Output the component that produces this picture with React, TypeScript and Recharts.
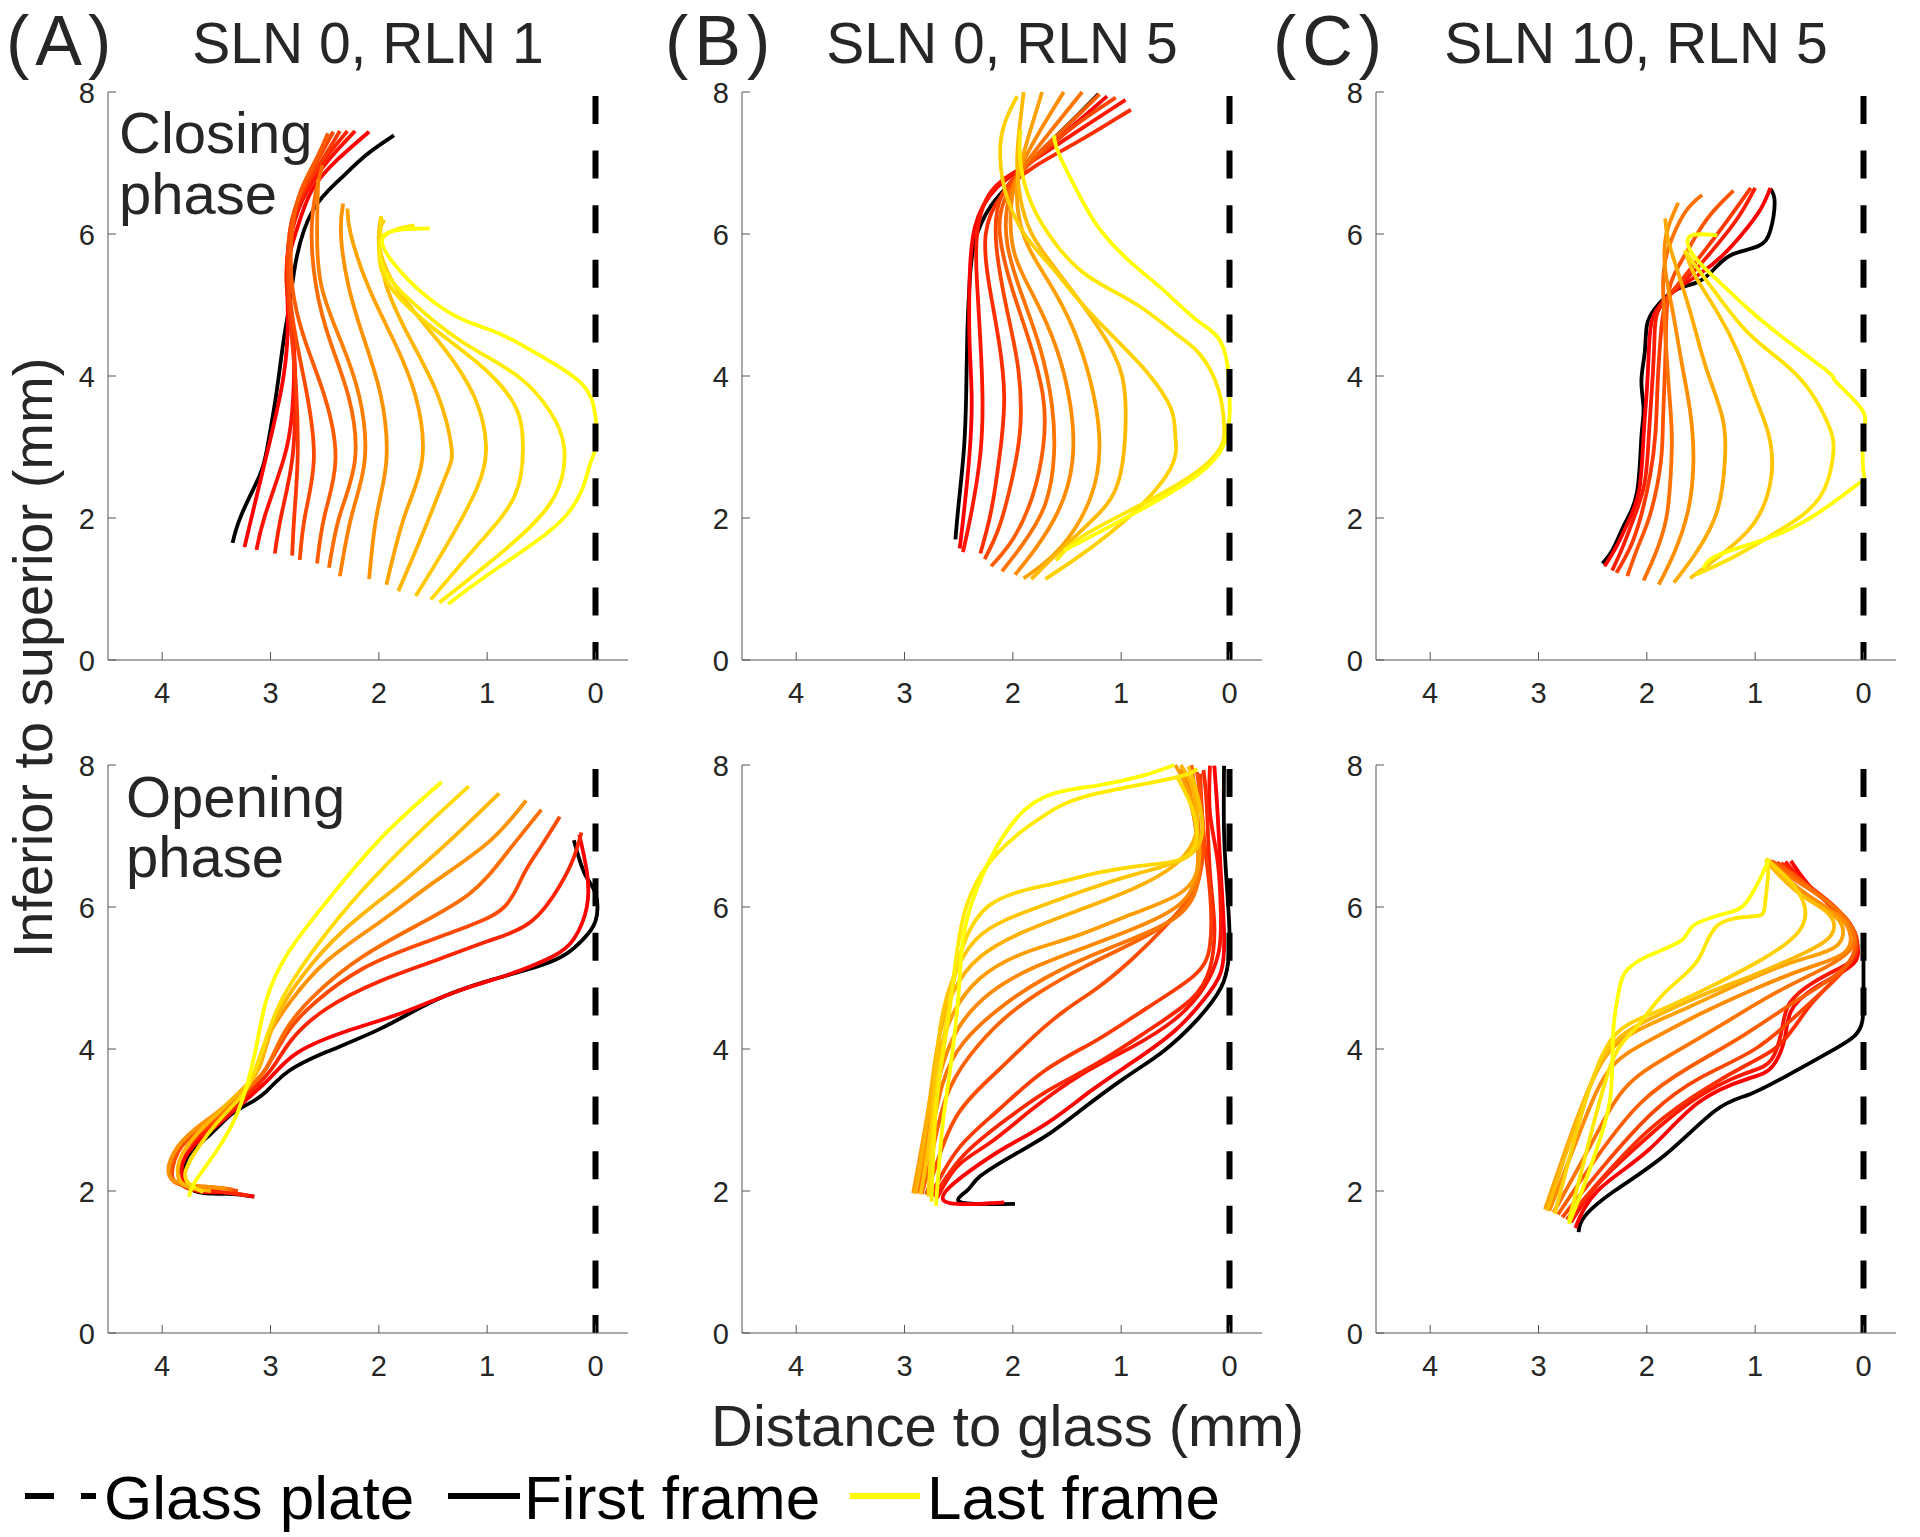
import React from "react";
import { LineChart, Line, XAxis, YAxis } from "recharts";

type P = [number, number];

const xTicks = [0, 1, 2, 3, 4];
const yTicks = [0, 2, 4, 6, 8];
const panelLetters = ["(A)", "(B)", "(C)"];
const panelTitles = ["SLN 0, RLN 1", "SLN 0, RLN 5", "SLN 10, RLN 5"];
const phaseLabels = [
  ["Closing", "phase"],
  ["Opening", "phase"],
];
const legendLabels = ["Glass plate", "First frame", "Last frame"];
const glassPlate: P[] = [
  [0, 8],
  [0, 0],
];

// each list: first curve = first frame (black), then frames red -> yellow
const closingA: P[][] = [
  [[3.35,1.65],[3.27,2.04],[3.1,2.6],[3.03,2.99],[2.95,3.71],[2.88,4.49],[2.82,5.05],[2.76,5.66],[2.61,6.33],[2.36,6.77],[2.12,7.11],[1.86,7.39]],
  [[3.24,1.59],[3.17,2.04],[3.02,2.99],[2.88,3.99],[2.84,4.82],[2.84,5.55],[2.76,6.05],[2.62,6.61],[2.38,7.05],[2.09,7.44]],
  [[3.13,1.55],[3.05,2.04],[2.88,2.82],[2.8,3.5],[2.79,4.49],[2.85,5.3],[2.8,6.05],[2.66,6.61],[2.46,7.05],[2.22,7.45]],
  [[2.96,1.5],[2.9,2.04],[2.8,2.82],[2.77,3.71],[2.79,4.49],[2.85,5.27],[2.81,6.05],[2.68,6.61],[2.5,7.05],[2.29,7.45]],
  [[2.8,1.47],[2.78,2.04],[2.75,2.82],[2.76,3.71],[2.8,4.49],[2.84,5.27],[2.82,6.05],[2.7,6.61],[2.52,7.05],[2.36,7.45]],
  [[2.73,1.41],[2.68,2.04],[2.6,2.82],[2.66,3.71],[2.76,4.49],[2.83,5.27],[2.82,6.05],[2.71,6.61],[2.56,7.05],[2.42,7.44]],
  [[2.57,1.36],[2.5,2.04],[2.4,2.82],[2.5,3.71],[2.68,4.49],[2.8,5.27],[2.8,6.05],[2.72,6.61],[2.58,7.05],[2.47,7.42]],
  [[2.46,1.3],[2.36,2.04],[2.22,2.82],[2.28,3.71],[2.45,4.49],[2.58,5.27],[2.62,6.05],[2.58,6.6],[2.52,6.97]],
  [[2.36,1.18],[2.25,2.04],[2.13,2.82],[2.18,3.71],[2.35,4.49],[2.53,5.27],[2.57,6.05],[2.56,6.77]],
  [[2.09,1.14],[2.02,2.04],[1.93,2.82],[1.98,3.71],[2.13,4.49],[2.28,5.27],[2.35,6.0],[2.33,6.43]],
  [[1.93,1.06],[1.76,2.04],[1.6,2.82],[1.66,3.71],[1.86,4.49],[2.1,5.27],[2.26,6.0],[2.29,6.36]],
  [[1.82,0.97],[1.6,1.76],[1.38,2.6],[1.33,3.0],[1.45,3.71],[1.7,4.49],[1.93,5.27],[2.0,5.9],[1.98,6.25]],
  [[1.66,0.9],[1.38,1.6],[1.1,2.4],[1.01,3.0],[1.12,3.71],[1.45,4.49],[1.85,5.27],[2.0,5.9],[1.95,6.2]],
  [[1.52,0.85],[1.1,1.6],[0.75,2.3],[0.67,3.0],[0.75,3.6],[1.1,4.2],[1.6,4.8],[1.95,5.4],[1.99,5.9],[1.98,6.25]],
  [[1.44,0.81],[0.8,1.6],[0.38,2.3],[0.29,3.0],[0.42,3.5],[0.72,4.0],[1.25,4.5],[1.7,5.05],[1.95,5.5],[1.96,5.95],[1.67,6.12]],
  [[1.36,0.79],[0.89,1.31],[0.27,2.04],[0.06,2.71],[0,2.99],[0,3.43],[0.12,3.88],[0.49,4.27],[0.89,4.6],[1.19,4.77],[1.5,5.05],[1.81,5.49],[1.96,5.97],[1.53,6.08]],
];

const closingB: P[][] = [
  [[2.53,1.7],[2.5,2.2],[2.45,3.0],[2.43,3.8],[2.42,4.6],[2.4,5.3],[2.35,5.9],[2.2,6.4],[2.0,6.75],[1.75,7.15],[1.45,7.6],[1.21,7.97]],
  [[2.49,1.57],[2.45,2.1],[2.4,2.9],[2.38,3.7],[2.4,4.5],[2.4,5.3],[2.35,6.1],[2.15,6.65],[1.85,7.0],[1.5,7.45],[1.13,7.94]],
  [[2.46,1.52],[2.38,2.1],[2.3,2.9],[2.28,3.7],[2.3,4.5],[2.33,5.3],[2.33,6.0],[2.2,6.6],[1.9,6.95],[1.5,7.35],[1.1,7.75],[0.96,7.89]],
  [[2.3,1.5],[2.2,2.1],[2.12,2.9],[2.08,3.7],[2.13,4.5],[2.22,5.3],[2.25,6.0],[2.1,6.55],[1.8,6.95],[1.4,7.3],[1.05,7.62],[0.91,7.75]],
  [[2.26,1.42],[2.12,1.9],[2.0,2.6],[1.93,3.3],[1.95,4.1],[2.05,4.9],[2.15,5.8],[2.1,6.55],[1.8,7.05],[1.45,7.5],[1.05,7.92]],
  [[2.2,1.32],[2.0,1.7],[1.82,2.3],[1.72,3.0],[1.72,3.7],[1.85,4.5],[2.02,5.3],[2.12,6.0],[2.07,6.5],[1.85,7.0],[1.55,7.45],[1.2,7.97]],
  [[2.1,1.25],[1.9,1.65],[1.7,2.2],[1.62,2.9],[1.64,3.6],[1.75,4.4],[1.93,5.2],[2.05,5.85],[2.05,6.4],[1.92,6.9],[1.65,7.45],[1.36,8.0]],
  [[1.98,1.2],[1.8,1.55],[1.58,2.1],[1.45,2.8],[1.47,3.6],[1.6,4.4],[1.8,5.1],[1.98,5.7],[2.02,6.3],[1.95,6.85],[1.75,7.45],[1.53,8.0]],
  [[1.9,1.15],[1.55,1.6],[1.28,2.3],[1.2,3.0],[1.25,3.7],[1.4,4.5],[1.62,5.2],[1.85,5.8],[1.95,6.3],[1.95,6.8],[1.85,7.4],[1.73,8.0]],
  [[1.83,1.14],[1.53,1.59],[1.22,2.04],[1.01,2.6],[0.96,3.6],[1.07,4.32],[1.38,5.05],[1.68,5.66],[1.84,6.05],[1.93,6.5],[1.96,7.05],[1.93,7.61],[1.9,8.0]],
  [[1.7,1.14],[1.37,1.48],[0.91,2.04],[0.54,2.71],[0.5,3.15],[0.54,3.54],[0.76,4.05],[1.07,4.55],[1.38,5.05],[1.65,5.55],[1.89,5.99],[2.05,6.5],[2.11,6.94],[2.11,7.33],[2.05,7.66],[1.96,7.94]],
  [[1.6,1.4],[1.35,1.75],[0.8,2.2],[0.3,2.65],[0.08,3.0],[0.05,3.3],[0.1,3.8],[0.27,4.3],[0.5,4.6],[0.85,5.0],[1.3,5.4],[1.6,5.85],[1.82,6.4],[1.93,7.0],[1.93,7.47]],
  [[1.53,1.54],[0.91,2.04],[0.3,2.6],[0.05,3.04],[0,3.43],[0,3.71],[0.02,4.16],[0.11,4.55],[0.33,4.82],[0.61,5.21],[0.91,5.6],[1.19,6.05],[1.37,6.5],[1.57,7.11],[1.62,7.39]],
];

const closingC: P[][] = [
  [[2.41,1.36],[2.31,1.57],[2.2,1.93],[2.09,2.37],[2.05,3.15],[2.03,3.54],[2.05,3.93],[2.02,4.32],[2.0,4.71],[1.92,4.96],[1.74,5.21],[1.52,5.33],[1.35,5.55],[1.2,5.72],[0.97,5.83],[0.86,6.05],[0.82,6.45],[0.86,6.64]],
  [[2.39,1.32],[2.28,1.6],[2.17,1.95],[2.07,2.4],[2.03,3.15],[2.0,3.8],[1.98,4.4],[1.95,4.8],[1.85,5.05],[1.7,5.25],[1.5,5.45],[1.3,5.7],[1.12,6.0],[0.95,6.35],[0.86,6.65]],
  [[2.32,1.26],[2.22,1.6],[2.12,2.0],[2.02,2.5],[1.98,3.2],[1.95,3.9],[1.93,4.5],[1.9,4.9],[1.75,5.2],[1.55,5.5],[1.35,5.85],[1.15,6.25],[1.0,6.65]],
  [[2.28,1.23],[2.15,1.6],[2.05,2.05],[1.97,2.6],[1.92,3.2],[1.9,3.9],[1.87,4.6],[1.82,5.05],[1.68,5.35],[1.5,5.7],[1.3,6.1],[1.04,6.65]],
  [[2.18,1.18],[2.08,1.6],[1.96,2.1],[1.87,2.8],[1.85,3.4],[1.83,4.2],[1.82,4.8],[1.78,5.3],[1.65,5.7],[1.45,6.2],[1.2,6.61]],
  [[2.03,1.12],[1.92,1.5],[1.82,2.0],[1.78,2.6],[1.77,3.2],[1.8,3.9],[1.83,4.6],[1.85,5.3],[1.8,5.8],[1.65,6.3],[1.49,6.55]],
  [[1.89,1.06],[1.75,1.5],[1.62,2.1],[1.57,2.8],[1.6,3.5],[1.68,4.2],[1.76,4.9],[1.83,5.5],[1.82,6.0],[1.71,6.44]],
  [[1.75,1.09],[1.55,1.5],[1.35,2.1],[1.28,2.8],[1.3,3.4],[1.45,4.1],[1.58,4.8],[1.7,5.4],[1.8,5.9],[1.83,6.22]],
  [[1.6,1.15],[1.3,1.5],[1.0,1.95],[0.85,2.6],[0.88,3.2],[1.0,3.7],[1.15,4.3],[1.35,4.9],[1.55,5.4],[1.65,5.77]],
  [[1.55,1.2],[1.2,1.45],[0.75,1.85],[0.4,2.3],[0.28,2.9],[0.32,3.3],[0.5,3.8],[0.75,4.2],[1.06,4.6],[1.33,5.1],[1.55,5.55],[1.65,5.77]],
  [[1.48,1.29],[1.34,1.48],[0.91,1.7],[0.45,2.04],[0.05,2.48],[0,2.65],[0,3.2],[0.02,3.54],[0.26,3.93],[0.32,4.05],[0.75,4.55],[1.06,4.94],[1.37,5.38],[1.58,5.72],[1.6,5.97],[1.35,5.98]],
];

const openingA: P[][] = [
  [[3.15,1.92],[3.4,1.96],[3.7,2.0],[3.8,2.28],[3.73,2.56],[3.56,2.79],[3.37,3.07],[3.2,3.23],[3.04,3.4],[2.84,3.68],[2.48,3.96],[1.98,4.29],[1.49,4.68],[0.99,4.96],[0.5,5.18],[0.26,5.35],[0.13,5.52],[0,5.8],[0,6.19],[0.1,6.47],[0.2,6.94]],
  [[3.15,1.92],[3.45,1.98],[3.72,2.02],[3.82,2.3],[3.72,2.62],[3.5,2.92],[3.25,3.25],[3.0,3.6],[2.75,3.95],[2.3,4.25],[1.8,4.5],[1.3,4.8],[0.8,5.05],[0.4,5.3],[0.2,5.55],[0.08,6.0],[0.08,6.5],[0.15,7.02]],
  [[3.2,1.93],[3.5,2.0],[3.78,2.05],[3.85,2.3],[3.75,2.65],[3.5,2.95],[3.25,3.3],[3.0,3.7],[2.81,4.12],[2.48,4.57],[1.98,4.96],[1.49,5.24],[0.99,5.52],[0.59,5.8],[0.33,6.3],[0.2,6.7],[0.13,7.05]],
  [[3.3,2.0],[3.55,2.05],[3.85,2.1],[3.9,2.35],[3.78,2.7],[3.5,3.0],[3.25,3.35],[3.04,3.73],[2.84,4.24],[2.57,4.68],[2.15,5.13],[1.65,5.46],[1.16,5.74],[0.83,6.02],[0.66,6.47],[0.5,6.86],[0.33,7.27]],
  [[3.35,2.02],[3.6,2.06],[3.88,2.12],[3.92,2.4],[3.78,2.75],[3.5,3.05],[3.25,3.4],[3.05,3.7],[2.87,4.24],[2.57,4.79],[2.15,5.3],[1.65,5.74],[1.16,6.19],[0.83,6.74],[0.5,7.37]],
  [[3.4,2.03],[3.65,2.07],[3.9,2.15],[3.92,2.45],[3.75,2.8],[3.5,3.1],[3.3,3.35],[3.17,3.57],[3.04,4.12],[2.81,4.68],[2.48,5.24],[1.98,5.8],[1.49,6.35],[0.99,6.91],[0.64,7.5]],
  [[3.55,2.0],[3.75,2.05],[3.85,2.2],[3.82,2.5],[3.65,2.85],[3.45,3.15],[3.25,3.45],[3.1,3.75],[2.97,4.35],[2.71,5.02],[2.31,5.69],[1.82,6.3],[1.32,6.97],[0.89,7.6]],
  [[3.62,1.98],[3.75,2.1],[3.78,2.3],[3.65,2.65],[3.5,2.95],[3.32,3.25],[3.2,3.5],[3.07,4.01],[2.9,4.68],[2.57,5.46],[2.15,6.24],[1.65,7.02],[1.17,7.7]],
  [[3.75,1.92],[3.7,2.12],[3.5,2.56],[3.3,3.12],[3.15,3.9],[3.04,4.68],[2.84,5.35],[2.48,6.08],[1.98,6.97],[1.42,7.76]],
];

const openingB: P[][] = [
  [[1.98,1.82],[2.48,1.84],[2.42,2.01],[2.3,2.21],[1.99,2.51],[1.68,2.79],[1.38,3.13],[0.98,3.58],[0.61,3.97],[0.3,4.41],[0.08,4.86],[0.01,5.25],[0,5.64],[0.02,6.2],[0.05,7.04],[0.05,7.99]],
  [[2.08,1.84],[2.64,1.87],[2.39,2.29],[2.05,2.63],[1.68,2.96],[1.28,3.41],[0.91,3.8],[0.51,4.25],[0.24,4.69],[0.08,5.08],[0.05,5.64],[0.08,6.48],[0.11,7.32],[0.14,7.99]],
  [[2.7,1.9],[2.51,2.35],[2.21,2.68],[1.84,3.13],[1.38,3.63],[0.91,4.02],[0.51,4.41],[0.24,4.86],[0.1,5.36],[0.08,5.92],[0.11,6.65],[0.18,7.32],[0.18,7.99]],
  [[2.73,1.92],[2.45,2.51],[2.05,3.02],[1.68,3.41],[1.22,3.8],[0.76,4.25],[0.36,4.69],[0.18,5.14],[0.14,5.75],[0.18,6.48],[0.21,7.43],[0.24,7.93]],
  [[2.76,1.93],[2.5,2.6],[2.14,3.13],[1.71,3.69],[1.22,4.13],[0.76,4.58],[0.33,5.03],[0.18,5.47],[0.18,6.2],[0.24,7.04],[0.27,7.88]],
  [[2.8,1.95],[2.7,2.4],[2.5,3.1],[2.14,3.69],[1.84,4.13],[1.53,4.53],[1.22,4.86],[0.91,5.25],[0.61,5.7],[0.36,6.15],[0.27,6.48],[0.24,7.04],[0.3,7.9]],
  [[2.84,1.96],[2.75,2.5],[2.62,3.3],[2.4,3.9],[2.1,4.4],[1.75,4.8],[1.35,5.15],[0.95,5.45],[0.6,5.75],[0.33,6.2],[0.27,6.8],[0.32,7.6],[0.35,8.0]],
  [[2.88,1.97],[2.78,2.6],[2.65,3.5],[2.45,4.1],[2.1,4.6],[1.7,5.0],[1.3,5.3],[0.9,5.55],[0.5,5.85],[0.3,6.3],[0.3,7.0],[0.4,7.9]],
  [[2.9,1.98],[2.8,2.7],[2.68,3.6],[2.5,4.3],[2.2,4.8],[1.8,5.15],[1.3,5.45],[0.8,5.75],[0.45,6.05],[0.3,6.5],[0.32,7.2],[0.45,7.95]],
  [[2.92,1.97],[2.82,2.8],[2.7,3.8],[2.55,4.5],[2.3,5.0],[1.9,5.35],[1.4,5.6],[0.9,5.9],[0.45,6.2],[0.28,6.7],[0.35,7.5],[0.5,8.0]],
  [[2.9,1.96],[2.8,2.9],[2.7,4.0],[2.55,4.8],[2.3,5.3],[1.9,5.65],[1.4,5.95],[0.9,6.25],[0.5,6.6],[0.3,7.1],[0.35,7.7],[0.45,8.0]],
  [[2.85,1.95],[2.75,3.0],[2.68,4.2],[2.55,5.0],[2.3,5.6],[1.85,5.95],[1.4,6.2],[0.9,6.45],[0.4,6.7],[0.25,7.1],[0.3,7.6],[0.38,7.98]],
  [[2.78,1.92],[2.72,3.2],[2.6,4.5],[2.48,5.36],[2.21,6.03],[1.68,6.31],[1.22,6.48],[0.76,6.59],[0.36,6.76],[0.33,7.32],[0.48,7.82]],
  [[2.75,1.85],[2.7,3.3],[2.58,4.6],[2.45,5.9],[2.14,6.76],[1.68,7.32],[1.22,7.6],[0.51,7.82],[0.3,7.95]],
  [[2.71,1.79],[2.65,2.9],[2.58,3.69],[2.5,4.8],[2.45,5.64],[2.27,6.48],[1.96,7.26],[1.62,7.6],[1.22,7.71],[0.8,7.85],[0.51,8.0]],
];

const openingC: P[][] = [
  [[2.63,1.42],[2.57,1.65],[2.29,2.01],[1.83,2.51],[1.37,3.13],[1.07,3.35],[0.76,3.58],[0.3,3.97],[0.08,4.19],[0.01,4.4],[0,4.8],[0,5.4]],
  [[2.66,1.48],[2.45,2.01],[1.99,2.57],[1.53,3.24],[1.07,3.58],[0.85,3.74],[0.73,4.13],[0.67,4.53],[0.45,4.86],[0.14,5.14],[0.05,5.36],[0.1,5.65],[0.28,5.98],[0.5,6.3],[0.67,6.65]],
  [[2.7,1.56],[2.45,2.1],[2.0,2.75],[1.55,3.3],[1.1,3.65],[0.85,3.85],[0.75,4.3],[0.68,4.65],[0.45,4.95],[0.15,5.2],[0.06,5.4],[0.12,5.75],[0.35,6.1],[0.58,6.4],[0.72,6.64]],
  [[2.74,1.6],[2.4,2.2],[1.95,2.9],[1.45,3.45],[1.05,3.8],[0.75,4.1],[0.5,4.6],[0.25,5.0],[0.07,5.35],[0.1,5.7],[0.3,6.05],[0.55,6.35],[0.76,6.62]],
  [[2.78,1.63],[2.4,2.35],[1.95,3.1],[1.5,3.6],[1.0,4.0],[0.6,4.5],[0.25,5.0],[0.08,5.38],[0.12,5.75],[0.35,6.1],[0.6,6.4],[0.8,6.63]],
  [[2.82,1.67],[2.45,2.5],[2.05,3.25],[1.6,3.75],[1.1,4.2],[0.65,4.65],[0.25,5.05],[0.08,5.4],[0.14,5.8],[0.4,6.15],[0.65,6.45],[0.85,6.65]],
  [[2.86,1.7],[2.5,2.7],[2.2,3.45],[1.8,3.9],[1.3,4.35],[0.8,4.8],[0.35,5.15],[0.1,5.45],[0.15,5.8],[0.4,6.15],[0.7,6.45],[0.88,6.66]],
  [[2.9,1.72],[2.6,2.9],[2.35,3.7],[2.0,4.1],[1.5,4.5],[1.0,4.85],[0.5,5.15],[0.15,5.4],[0.18,5.8],[0.45,6.1],[0.75,6.45],[0.9,6.66]],
  [[2.94,1.74],[2.65,3.0],[2.4,3.85],[2.1,4.25],[1.6,4.6],[1.1,4.95],[0.6,5.25],[0.25,5.45],[0.22,5.8],[0.5,6.1],[0.78,6.45],[0.9,6.67]],
  [[2.92,1.72],[2.62,3.1],[2.35,4.0],[2.0,4.4],[1.5,4.75],[1.0,5.05],[0.55,5.35],[0.3,5.6],[0.32,5.9],[0.6,6.2],[0.9,6.66]],
  [[2.85,1.68],[2.58,3.2],[2.32,4.15],[1.95,4.5],[1.45,4.85],[0.95,5.25],[0.6,5.65],[0.55,6.05],[0.7,6.4],[0.9,6.68]],
  [[2.72,1.58],[2.5,2.9],[2.3,3.9],[2.1,4.3],[1.83,4.8],[1.53,5.25],[1.34,5.75],[1.0,5.87],[0.91,6.03],[0.88,6.48],[0.9,6.68]],
  [[2.72,1.54],[2.57,2.12],[2.42,2.79],[2.33,3.41],[2.31,4.25],[2.26,4.8],[2.2,5.08],[1.99,5.31],[1.68,5.53],[1.56,5.75],[1.25,5.92],[1.07,6.09],[0.91,6.54],[0.88,6.68]],
];

const panels = [
  [closingA, closingB, closingC],
  [openingA, openingB, openingC],
];

const PLOT_W = 520;
const PLOT_H = 568;
const Y_AXIS_W = 60;
const X_AXIS_H = 50;
const PAD_TOP = 24;
const PAD_RIGHT = 12;
const colLefts = [108, 742, 1376];
const rowTops = [92, 765];
const letterLefts = [6, 665, 1273];
const FONT = "'Liberation Sans', Arial, Helvetica, sans-serif";
const INK = "#262626";

function frameColor(i: number, n: number) {
  if (i === 0) return "#000000";
  const g = n > 1 ? Math.round((255 * (i - 1)) / (n - 1)) : 255;
  return `rgb(255,${g},0)`;
}

const renderYTick = (props: any) => {
  const { x, y, payload } = props;
  return (
    <g>
      <line x1={x} y1={y} x2={x + 8} y2={y} stroke="#555" strokeWidth={1} />
      <text x={x - 13} y={y + 10.5} textAnchor="end" fontSize={29} fontFamily={FONT} fill={INK}>
        {payload.value}
      </text>
    </g>
  );
};

const renderXTick = (props: any) => {
  const { x, y, payload } = props;
  return (
    <g>
      <line x1={x} y1={y} x2={x} y2={y - 8} stroke="#555" strokeWidth={1} />
      <text x={x} y={y + 43} textAnchor="middle" fontSize={29} fontFamily={FONT} fill={INK}>
        {payload.value}
      </text>
    </g>
  );
};

function Panel({ curves, left, top }: { curves: P[][]; left: number; top: number }) {
  const n = curves.length - 1;
  return (
    <div style={{ position: "absolute", left: left - Y_AXIS_W, top: top - PAD_TOP }}>
      <LineChart
        width={Y_AXIS_W + PLOT_W + PAD_RIGHT}
        height={PAD_TOP + PLOT_H + X_AXIS_H}
        margin={{ top: PAD_TOP, right: PAD_RIGHT, bottom: 0, left: 0 }}
      >
        <XAxis
          type="number"
          dataKey="x"
          domain={[-0.3, 4.5]}
          reversed
          ticks={xTicks}
          interval={0}
          height={X_AXIS_H}
          stroke="#555"
          tickLine={false}
          tickSize={0}
          tickMargin={0}
          tick={renderXTick}
        />
        <YAxis
          type="number"
          dataKey="y"
          domain={[0, 8]}
          ticks={yTicks}
          interval={0}
          width={Y_AXIS_W}
          stroke="#555"
          tickLine={false}
          tickSize={0}
          tickMargin={0}
          tick={renderYTick}
        />
        {curves.map((c, i) => (
          <Line
            key={i}
            data={c.map(([x, y]) => ({ x, y }))}
            dataKey="y"
            type="natural"
            stroke={frameColor(i, n)}
            strokeWidth={3.8}
            dot={false}
            activeDot={false}
            legendType="none"
            isAnimationActive={false}
          />
        ))}
        <Line
          data={glassPlate.map(([x, y]) => ({ x, y }))}
          dataKey="y"
          type="linear"
          stroke="#000"
          strokeWidth={6}
          strokeDasharray="28 26.6"
          strokeDashoffset={50.6}
          dot={false}
          activeDot={false}
          legendType="none"
          isAnimationActive={false}
        />
      </LineChart>
    </div>
  );
}

export default function App() {
  return (
    <div style={{ position: "absolute", left: 0, top: 0, width: 1920, height: 1537, background: "#fff" }}>
      {panels.map((row, r) =>
        row.map((curves, c) => (
          <Panel key={`${r}-${c}`} curves={curves} left={colLefts[c]} top={rowTops[r]} />
        ))
      )}
      <svg
        width={1920}
        height={1537}
        style={{ position: "absolute", left: 0, top: 0, pointerEvents: "none" }}
        fontFamily={FONT}
      >
        {panelLetters.map((t, i) => (
          <text key={t} x={letterLefts[i]} y={65} fontSize={70} letterSpacing={6} fill={INK}>
            {t}
          </text>
        ))}
        {panelTitles.map((t, i) => (
          <text key={t} x={colLefts[i] + PLOT_W / 2} y={63} fontSize={57} fill={INK} textAnchor="middle">
            {t}
          </text>
        ))}
        <text x={119} y={153} fontSize={58} fill={INK}>
          {phaseLabels[0][0]}
        </text>
        <text x={119} y={214} fontSize={58} fill={INK}>
          {phaseLabels[0][1]}
        </text>
        <text x={126} y={817} fontSize={58} fill={INK}>
          {phaseLabels[1][0]}
        </text>
        <text x={126} y={877} fontSize={58} fill={INK}>
          {phaseLabels[1][1]}
        </text>
        <text transform="translate(52,658) rotate(-90)" textAnchor="middle" fontSize={56} fill={INK}>
          Inferior to superior (mm)
        </text>
        <text x={711} y={1446} fontSize={58} fill={INK}>
          Distance to glass (mm)
        </text>
        <line x1={25} y1={1496} x2={96} y2={1496} stroke="#000" strokeWidth={6} strokeDasharray="29 27" />
        <text x={104} y={1519} fontSize={62} fill="#000">
          {legendLabels[0]}
        </text>
        <line x1={448} y1={1496} x2={520} y2={1496} stroke="#000" strokeWidth={6} />
        <text x={524} y={1519} fontSize={62} fill="#000">
          {legendLabels[1]}
        </text>
        <line x1={850} y1={1496} x2={920} y2={1496} stroke="#ffff00" strokeWidth={6} />
        <text x={927} y={1519} fontSize={62} fill="#000">
          {legendLabels[2]}
        </text>
      </svg>
    </div>
  );
}
